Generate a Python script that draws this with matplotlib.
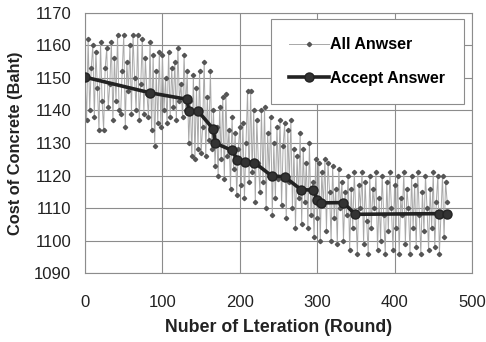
import numpy as np
import matplotlib
matplotlib.use("Agg")
import matplotlib.pyplot as plt

plt.rcParams['font.family'] = ['Liberation Sans', 'DejaVu Sans']

# cost of every trial answer, one every 2 rounds
all_step = 2
all_cost = [
    1150, 1137, 1162, 1140, 1153, 1160, 1138, 1158, 1147, 1134,
    1161, 1143, 1134, 1153, 1159, 1141, 1148, 1161, 1137, 1156,
    1143, 1163, 1140, 1139, 1152, 1163, 1135, 1155, 1146, 1160,
    1139, 1163, 1150, 1140, 1163, 1137, 1148, 1162, 1139, 1156,
    1145, 1138, 1161, 1134, 1157, 1129, 1152, 1136, 1158, 1135,
    1157, 1140, 1150, 1136, 1158, 1138, 1153, 1141, 1155, 1137,
    1159, 1143, 1148, 1138, 1157, 1140, 1152, 1130, 1143, 1126,
    1151, 1125, 1147, 1128, 1152, 1127, 1135, 1155, 1126, 1144,
    1131, 1152, 1128, 1140, 1123, 1135, 1120, 1141, 1125, 1144,
    1119, 1145, 1126, 1134, 1116, 1138, 1122, 1133, 1114, 1128,
    1135, 1117, 1136, 1113, 1130, 1146, 1118, 1146, 1121, 1140,
    1112, 1137, 1124, 1115, 1140, 1118, 1141, 1110, 1133, 1120,
    1138, 1108, 1130, 1113, 1135, 1119, 1137, 1111, 1129, 1136,
    1107, 1134, 1118, 1137, 1110, 1128, 1104, 1126, 1113, 1133,
    1105, 1128, 1112, 1124, 1104, 1130, 1108, 1118, 1101, 1125,
    1107, 1124, 1100, 1121, 1111, 1125, 1103, 1124, 1115, 1100,
    1123, 1107, 1116, 1099, 1122, 1110, 1118, 1100, 1115, 1108,
    1120, 1097, 1116, 1104, 1121, 1108, 1096, 1117, 1110, 1121,
    1099, 1118, 1106, 1096, 1120, 1104, 1116, 1110, 1121, 1097,
    1113, 1100, 1120, 1108, 1096, 1118, 1103, 1121, 1110, 1097,
    1117, 1104, 1120, 1096, 1113, 1108, 1121, 1099, 1116, 1110,
    1096, 1120, 1104, 1117, 1098, 1121, 1108, 1096, 1115, 1103,
    1120, 1110, 1097, 1116, 1104, 1121, 1098, 1112, 1120, 1096,
    1108, 1120, 1101, 1118, 1112,
]
all_round = np.arange(len(all_cost)) * all_step

# accepted answers
acc_round = [0, 84, 132, 134, 146, 166, 168, 190, 197, 207, 219,
             241, 258, 279, 295, 300, 305, 334, 349, 458, 468]
acc_cost = [1150.2, 1145.4, 1143.4, 1139.8, 1139.8, 1134.2, 1130.0,
            1127.7, 1124.8, 1124.3, 1124.0, 1119.9, 1119.6, 1115.7,
            1115.5, 1112.5, 1111.6, 1111.7, 1108.1, 1108.3, 1108.3]

fig = plt.figure(figsize=(4.86, 3.42), dpi=100)
ax = fig.add_axes([0.175, 0.201, 0.796, 0.762])

ax.plot(all_round, all_cost, color='#a8a8a8', lw=0.7, marker='D',
        ms=2.2, mfc='#555555', mec='#555555', label='All Anwser', zorder=2)
ax.plot(acc_round, acc_cost, color='#222222', lw=2.6, marker='o',
        ms=6.5, mfc='#333333', mec='#222222', label='Accept Answer', zorder=3)

ax.set_xlim(0, 500)
ax.set_ylim(1090, 1170)
ax.set_xticks(range(0, 501, 100))
ax.set_yticks(range(1090, 1171, 10))
ax.grid(True, color='#8c8c8c', lw=0.8)
ax.set_axisbelow(True)
ax.tick_params(length=0, labelsize=12, colors='#222222')
ax.tick_params(axis='x', pad=16)
ax.tick_params(axis='y', pad=10)
for s in ax.spines.values():
    s.set_color('#8c8c8c')
    s.set_linewidth(0.8)

ax.set_xlabel('Nuber of Lteration (Round)', fontsize=12.8, fontweight='bold',
              color='#222222', labelpad=6)
ax.set_ylabel('Cost of Concrete (Baht)', fontsize=11.8, fontweight='bold',
              color='#222222', labelpad=8)

leg = ax.legend(loc='upper right', bbox_to_anchor=(0.979, 0.976),
                borderaxespad=0, fancybox=False, edgecolor='#8c8c8c',
                framealpha=1, prop={'weight': 'bold', 'size': 11.5},
                labelspacing=1.15, borderpad=1.15, handlelength=2.5,
                handletextpad=0.1)
leg.get_frame().set_linewidth(0.8)

fig.savefig('out.png', dpi=100)
